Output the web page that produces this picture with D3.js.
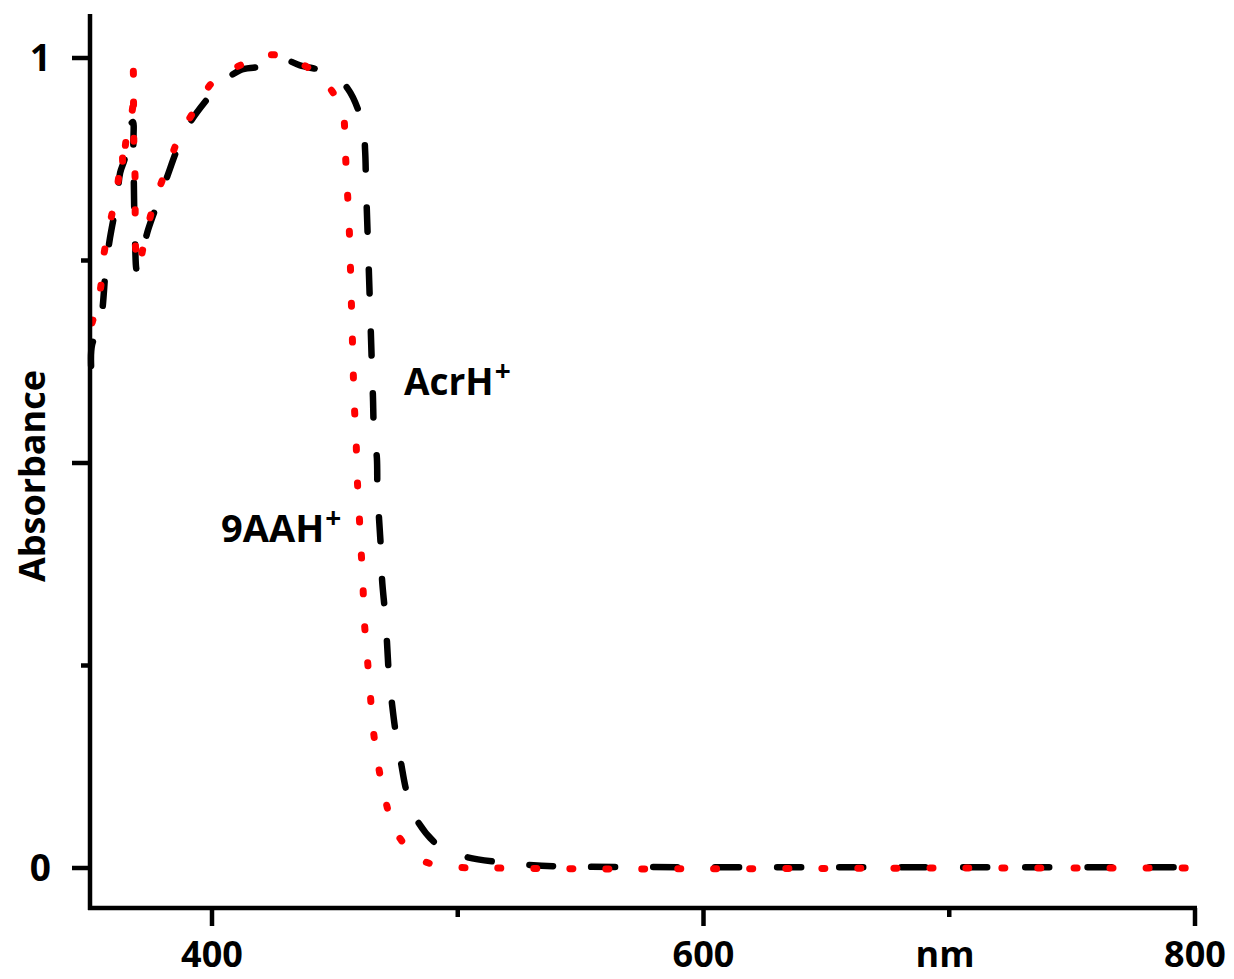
<!DOCTYPE html>
<html>
<head>
<meta charset="utf-8">
<script src="https://cdn.jsdelivr.net/npm/d3@7"></script>
<style>
  body { margin: 0; background: #fff; }
  text { font-family: "Open Sans", "Noto Sans", sans-serif; font-weight: bold; fill: #000; }
</style>
</head>
<body>
<div id="chart"></div>
<script>
// 9AAH+ (red dotted)
var redWl  = [351.2, 354.4, 356.1, 358.5, 361.3, 363.4, 363.8, 365.0, 367.8, 368.0, 368.2, 368.7, 369.0, 369.9,
              373.6, 377.2, 382.5, 387.0, 394.3, 400.8, 413.8, 424.8, 435.0, 444.8, 452.9, 454.1, 454.9, 455.7,
              456.2, 456.6, 457.0, 457.4, 457.8, 458.6, 459.0, 459.8, 460.6, 461.4, 461.9, 463.1, 464.3, 465.5,
              467.5, 470.4, 474.9, 485.9, 500.1, 514.8, 550, 600, 700, 800];
var redAbs = [0.673, 0.711, 0.759, 0.796, 0.837, 0.884, 0.862, 0.898, 0.941, 0.985, 0.895, 0.852, 0.760, 0.742,
              0.789, 0.828, 0.870, 0.905, 0.942, 0.972, 0.994, 1.004, 0.995, 0.974, 0.936, 0.891, 0.846, 0.801,
              0.756, 0.711, 0.667, 0.623, 0.578, 0.532, 0.488, 0.442, 0.396, 0.352, 0.309, 0.263, 0.219, 0.174,
              0.130, 0.086, 0.044, 0.009, 0.001, 0.000, -0.001, -0.001, 0.000, 0.000];

// AcrH+ (black dashed)
var blackWl  = [350.8, 351.2, 354.4, 356.9, 358.5, 361.3, 362.6, 364.6, 365.4, 367.8, 368.0, 368.7, 369.5,
                374.0, 378.0, 381.7, 386.2, 391.0, 397.2, 403.3, 411.4, 418.7, 428.9, 435.8, 448.0, 455.3,
                461.4, 462.3, 462.7, 463.5, 464.3, 465.1, 465.5, 465.9, 467.1, 467.3, 468.0, 468.8, 469.2,
                470.4, 471.2, 472.0, 473.2, 474.9, 476.9, 479.3, 483.4, 492.8, 503.0, 517.2, 528.2, 541.6,
                600, 700, 800];
var blackAbs = [0.620, 0.646, 0.670, 0.744, 0.778, 0.825, 0.858, 0.877, 0.907, 0.921, 0.890, 0.772, 0.738,
                0.788, 0.822, 0.853, 0.890, 0.920, 0.946, 0.967, 0.985, 0.989, 0.998, 0.991, 0.981, 0.962,
                0.917, 0.886, 0.841, 0.767, 0.693, 0.617, 0.581, 0.541, 0.506, 0.467, 0.430, 0.390, 0.356,
                0.315, 0.279, 0.238, 0.204, 0.164, 0.130, 0.093, 0.059, 0.026, 0.014, 0.007, 0.004, 0.002,
                0.001, 0.001, 0.001];

var xMajor = [400, 600, 800];
var xMinor = [500, 700];
var yMajor = [0, 0.5, 1];
var yMinor = [0.25, 0.75];
var yLabels = [0, 1];

var width = 1234, height = 979;

var x = d3.scaleLinear().domain([400, 800]).range([212, 1195]);
var y = d3.scaleLinear().domain([0, 1]).range([868, 58]);

var svg = d3.select("#chart").append("svg")
	.attr("width", width)
	.attr("height", height);

var line = d3.line()
	.x(function (d) { return x(d[0]); })
	.y(function (d) { return y(d[1]); })
	.curve(d3.curveCatmullRom.alpha(0.5));

// curves
svg.append("path")
	.datum(d3.zip(blackWl, blackAbs))
	.attr("d", line)
	.attr("fill", "none")
	.attr("stroke", "#000")
	.attr("stroke-width", 6.5)
	.attr("stroke-linecap", "round")
	.attr("stroke-dasharray", "24,38");

svg.append("path")
	.datum(d3.zip(redWl, redAbs))
	.attr("d", line)
	.attr("fill", "none")
	.attr("stroke", "#ff0000")
	.attr("stroke-width", 7)
	.attr("stroke-linecap", "round")
	.attr("stroke-dasharray", "3,33");

// axes
var axisY = 908, axisX = 90;
svg.append("line")
	.attr("x1", axisX).attr("x2", axisX)
	.attr("y1", 14).attr("y2", axisY + 2)
	.attr("stroke", "#000").attr("stroke-width", 4.5);
svg.append("line")
	.attr("x1", axisX - 2).attr("x2", x(800) + 2)
	.attr("y1", axisY).attr("y2", axisY)
	.attr("stroke", "#000").attr("stroke-width", 4.5);

svg.selectAll(".xmaj").data(xMajor).enter().append("line")
	.attr("x1", function (d) { return x(d); }).attr("x2", function (d) { return x(d); })
	.attr("y1", axisY).attr("y2", axisY + 18)
	.attr("stroke", "#000").attr("stroke-width", 4.5);
svg.selectAll(".xmin").data(xMinor).enter().append("line")
	.attr("x1", function (d) { return x(d); }).attr("x2", function (d) { return x(d); })
	.attr("y1", axisY).attr("y2", axisY + 9)
	.attr("stroke", "#000").attr("stroke-width", 4.5);

svg.selectAll(".ymaj").data(yMajor).enter().append("line")
	.attr("x1", axisX - 18).attr("x2", axisX)
	.attr("y1", function (d) { return y(d); }).attr("y2", function (d) { return y(d); })
	.attr("stroke", "#000").attr("stroke-width", 4.5);
svg.selectAll(".ymin").data(yMinor).enter().append("line")
	.attr("x1", axisX - 9).attr("x2", axisX)
	.attr("y1", function (d) { return y(d); }).attr("y2", function (d) { return y(d); })
	.attr("stroke", "#000").attr("stroke-width", 4.5);

// tick labels
svg.selectAll(".xlab").data(xMajor).enter().append("text")
	.attr("x", function (d) { return x(d); })
	.attr("y", 967)
	.attr("text-anchor", "middle")
	.style("font-size", "36px")
	.text(function (d) { return d; });

svg.selectAll(".ylab").data(yLabels).enter().append("text")
	.attr("x", 51)
	.attr("y", function (d) { return y(d) + 13; })
	.attr("text-anchor", "end")
	.style("font-size", "37px")
	.text(function (d) { return d; });

svg.append("text")
	.attr("x", 945).attr("y", 967)
	.attr("text-anchor", "middle")
	.style("font-size", "36px")
	.text("nm");

svg.append("text")
	.attr("transform", "translate(45,476) rotate(-90)")
	.attr("text-anchor", "middle")
	.style("font-size", "36px")
	.text("Absorbance");

// annotations
var acr = svg.append("text")
	.attr("x", 404).attr("y", 395)
	.style("font-size", "37px")
	.text("AcrH");
acr.append("tspan").attr("dx", 1).attr("dy", -14).style("font-size", "28px").text("+");

var aah = svg.append("text")
	.attr("x", 221).attr("y", 542)
	.style("font-size", "38px")
	.text("9AAH");
aah.append("tspan").attr("dx", 1).attr("dy", -14).style("font-size", "28px").text("+");
</script>
</body>
</html>
